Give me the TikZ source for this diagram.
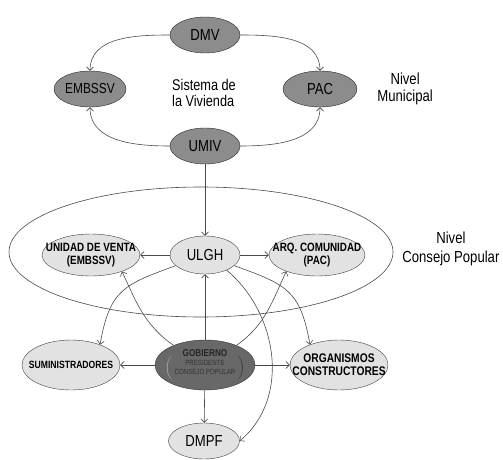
\documentclass[tikz,border=0pt]{standalone}
\usepackage{fontspec}
\setmainfont{Liberation Sans}
\newfontfamily\narrowfont{Liberation Sans}[FakeStretch=0.82]
\usetikzlibrary{positioning,shapes.geometric,arrows.meta}

\definecolor{munfill}{HTML}{8C8C8C}
\definecolor{govfill}{HTML}{686868}
\definecolor{popfill}{HTML}{E2E2E2}
\definecolor{linegray}{HTML}{4A4A4A}
\definecolor{parengray}{HTML}{A8A8A8}

\begin{document}
\begin{tikzpicture}[
    x=1pt, y=1pt,
    >={Straight Barb[length=3.5pt,width=7pt]},
    munnode/.style={ellipse, draw=black!85, fill=munfill, inner xsep=-12pt, inner ysep=0pt, minimum width=70pt, minimum height=36pt, font=\narrowfont\fontsize{16}{18}\selectfont},
    popnode/.style={ellipse, draw=black!75, fill=popfill, inner xsep=-12pt, inner ysep=0pt, align=center, minimum width=98pt, minimum height=42pt, font=\narrowfont\bfseries\fontsize{12}{13}\selectfont},
    govnode/.style={ellipse, draw=black!80, fill=govfill, inner xsep=-8pt, inner ysep=-2pt, align=center, minimum width=100pt, minimum height=50pt, text=black!85, font=\narrowfont\bfseries\fontsize{10}{11}\selectfont},
    levellabel/.style={inner sep=0pt, align=center, font=\narrowfont\fontsize{16}{17}\selectfont},
    link/.style={->, draw=linegray, line width=0.6pt}
  ]
  \useasboundingbox (0,0) rectangle (503,-460);

  \node[ellipse, draw=linegray, line width=0.6pt, inner sep=0pt, minimum width=384pt, minimum height=130pt] (consejo) at (201,-252) {};

  \node[munnode] (dmv) at (205,-35) {DMV};
  \node[munnode, minimum width=72pt, font=\narrowfont\fontsize{14.5}{16}\selectfont] (embssv) at (90,-89) {EMBSSV};
  \node[munnode, minimum width=74pt] (pac) at (320,-89) {PAC};
  \node[munnode] (umiv) at (205,-146) {UMIV};
  \node[levellabel, align=left, anchor=west, font=\narrowfont\fontsize{15.5}{16}\selectfont] (sistema) at (172,-93) {Sistema de\\la Vivienda};
  \node[levellabel, right=20pt of pac] (nivelmun) {Nivel\\Municipal};

  \node[popnode, minimum width=70pt, minimum height=38pt, font=\narrowfont\fontsize{16}{18}\selectfont] (ulgh) at (205,-255) {ULGH};
  \node[popnode] (unidad) at (91,-255) {UNIDAD DE VENTA\\(EMBSSV)};
  \node[popnode, minimum width=96pt] (arq) at (317,-255) {ARQ. COMUNIDAD\\(PAC)};
  \node[levellabel, right=37pt of arq, yshift=6pt, font=\narrowfont\fontsize{16}{19}\selectfont] (nivelcp) {Nivel\\Consejo Popular};

  \node[govnode] (gob) at (205,-365) {GOBIERNO\\[-2pt]{\mdseries\fontsize{7.5}{8.5}\selectfont\color{parengray}$\biggl(\;\color{black!80}\begin{tabular}{@{}c@{}}PRESIDENTE\\CONSEJO POPULAR\end{tabular}\;\biggr)$}};
  \node[popnode, minimum height=50pt, font=\narrowfont\bfseries\fontsize{10.5}{12}\selectfont] (sumin) at (71,-365) {SUMINISTRADORES};
  \node[popnode, minimum height=50pt, font=\narrowfont\bfseries\fontsize{12.5}{13}\selectfont] (organ) at (339,-365) {ORGANISMOS\\CONSTRUCTORES};
  \node[popnode, minimum width=71pt, minimum height=36pt, font=\narrowfont\fontsize{16}{18}\selectfont] (dmpf) at (204,-441) {DMPF};

  \draw[link] (dmv.west) to[out=180,in=90] (embssv.north);
  \draw[link] (dmv.east) to[out=0,in=90] (pac.north);
  \draw[link] (umiv.west) to[out=180,in=-90] (embssv.south);
  \draw[link] (umiv.east) to[out=0,in=-90] (pac.south);
  \draw[link] (umiv) -- (ulgh);

  \draw[link] (ulgh) -- (unidad);
  \draw[link] (ulgh) -- (arq);
  \draw[link] (ulgh.200) to[out=200,in=80,looseness=1.3] (sumin.35);
  \draw[link] (ulgh.-20) to[out=-20,in=100,looseness=1.3] (organ.145);
  \draw[link] (ulgh.-35) to[out=-40,in=40] (dmpf.east);

  \draw[link] (gob) -- (ulgh);
  \draw[link] (gob) -- (sumin);
  \draw[link] (gob) -- (organ);
  \draw[link] (gob) -- (dmpf);
  \draw[link] (gob.148) to[out=145,in=-65] (unidad.-28);
  \draw[link] (gob.32) to[out=35,in=-115] (arq.208);
\end{tikzpicture}
\end{document}
